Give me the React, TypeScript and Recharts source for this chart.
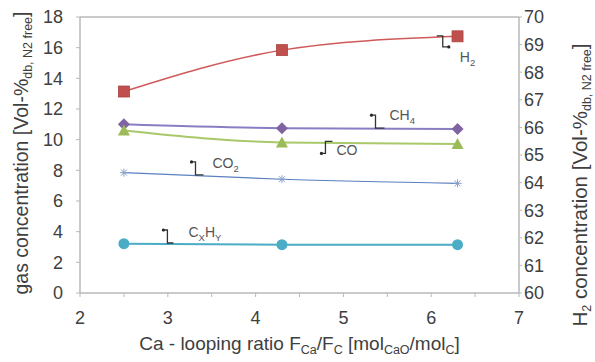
import React from 'react';
import { ComposedChart, Line, XAxis, YAxis, ReferenceLine, ReferenceDot } from 'recharts';

// ---- data ----
const ratios = [2.5, 4.3, 6.3];
const h2 = [67.3, 68.8, 69.3]; // right axis
const ch4 = [11.0, 10.75, 10.7];
const co = [10.6, 9.82, 9.72];
const co2 = [7.85, 7.42, 7.15];
const cxhy = [3.22, 3.15, 3.15];

const xTicks = [2, 2.5, 3, 3.5, 4, 4.5, 5, 5.5, 6, 6.5, 7];
const leftTicks = [0, 2, 4, 6, 8, 10, 12, 14, 16, 18];
const rightTicks = [60, 61, 62, 63, 64, 65, 66, 67, 68, 69, 70];

// annotation anchors (data coordinates on left axis)
const annotations = [
  { id: 'H2', parts: [['H', false], ['2', true]], x: 6.2, y: 16.05 },
  { id: 'CH4', parts: [['CH', false], ['4', true]], x: 5.32, y: 11.6 },
  { id: 'CO', parts: [['CO', false]], x: 4.75, y: 9.1 },
  { id: 'CO2', parts: [['CO', false], ['2', true]], x: 3.27, y: 8.55 },
  { id: 'CxHy', parts: [['C', false], ['X', true], ['H', false], ['Y', true]], x: 2.95, y: 4.11 },
];

const data = ratios.map((r, i) => ({ x: r, h2: h2[i], ch4: ch4[i], co: co[i], co2: co2[i], cxhy: cxhy[i] }));

const FONT = 'Liberation Sans, Arial, sans-serif';
const TXT = '#404040';
const AX = '#b8b8b8';

const annotStyle: Record<string, { path: string; lx: number; ly: number }> = {
  H2: { path: 'M0,0 H-6 V-11 H-12', lx: 11, ly: 10 },
  CH4: { path: 'M0,0 H4 V13 H13', lx: 18, ly: 0 },
  CO: { path: 'M0,0 H4 V-12 H11', lx: 15, ly: -3 },
  CO2: { path: 'M0,0 H4 V13 H12', lx: 21, ly: 1 },
  CxHy: { path: 'M0,0 H4 V13 H10', lx: 25, ly: 2 },
};

const renderAnnot = (a: any) => (props: any) => {
  const { cx, cy } = props;
  const s = annotStyle[a.id];
  return (
    <g key={a.id}>
      <circle cx={cx} cy={cy} r={1.6} fill="#222" />
      <path d={s.path} transform={`translate(${cx},${cy})`} stroke="#333" strokeWidth={1.3} fill="none" />
      <text x={cx + s.lx} y={cy + s.ly + 5} fontSize={14} fontFamily={FONT} fill="#555">
        {a.parts.map((p: any, i: number) => {
          const prevSub = i > 0 && a.parts[i - 1][1];
          const dy = p[1] ? (prevSub ? 0 : 4) : prevSub ? -4 : 0;
          return (
            <tspan key={i} dy={dy} fontSize={p[1] ? 9.5 : 14}>{p[0]}</tspan>
          );
        })}
      </text>
    </g>
  );
};

const Square = (p: any) => (
  <rect key={`s${p.index}`} x={p.cx - 5.5} y={p.cy - 5.5} width={11} height={11} fill="#c0504d" stroke="#a94442" strokeWidth={0.8} />
);
const Diamond = (p: any) => (
  <polygon key={`d${p.index}`} points={`${p.cx},${p.cy - 6} ${p.cx + 6},${p.cy} ${p.cx},${p.cy + 6} ${p.cx - 6},${p.cy}`} fill="#8064a2" />
);
const Tri = (p: any) => (
  <polygon key={`t${p.index}`} points={`${p.cx},${p.cy - 6} ${p.cx + 6},${p.cy + 5} ${p.cx - 6},${p.cy + 5}`} fill="#9bbb59" />
);
const Circ = (p: any) => (
  <circle key={`c${p.index}`} cx={p.cx} cy={p.cy} r={5.5} fill="#4bacc6" />
);
const Star = (p: any) => (
  <g key={`x${p.index}`} stroke="#8aa0c8" strokeWidth={1}>
    <line x1={p.cx - 4} y1={p.cy} x2={p.cx + 4} y2={p.cy} />
    <line x1={p.cx} y1={p.cy - 4} x2={p.cx} y2={p.cy + 4} />
    <line x1={p.cx - 3} y1={p.cy - 3} x2={p.cx + 3} y2={p.cy + 3} />
    <line x1={p.cx - 3} y1={p.cy + 3} x2={p.cx + 3} y2={p.cy - 3} />
  </g>
);

const SUB = 12.5;

const XTitle = (props: any) => {
  const vb = props.viewBox;
  const cx = vb.x + vb.width / 2;
  const y = 350;
  return (
    <text x={cx} y={y} textAnchor="middle" fontSize={19} fontFamily={FONT} fill={TXT}>
      Ca - looping ratio F<tspan dy={4} fontSize={SUB}>Ca</tspan>
      <tspan dy={-4}>/F</tspan>
      <tspan dy={4} fontSize={SUB}>C</tspan>
      <tspan dy={-4}> [mol</tspan>
      <tspan dy={4} fontSize={SUB}>CaO</tspan>
      <tspan dy={-4}>/mol</tspan>
      <tspan dy={4} fontSize={SUB}>C</tspan>
      <tspan dy={-4}>]</tspan>
    </text>
  );
};

const LeftTitle = () => {
  const cx = 21, cy = 153;
  return (
    <text x={cx} y={cy + 7} transform={`rotate(-90 ${cx} ${cy})`} textAnchor="middle" fontSize={19.5} fontFamily={FONT} fill={TXT}>
      gas concentration [Vol-%<tspan dy={4} fontSize={SUB}>db, N2 free</tspan>
      <tspan dy={-4}>]</tspan>
    </text>
  );
};

const RightTitle = () => {
  const cx = 580, cy = 185;
  return (
    <text x={cx} y={cy + 7} transform={`rotate(-90 ${cx} ${cy})`} textAnchor="middle" fontSize={20.5} fontFamily={FONT} fill={TXT}>
      H<tspan dy={4} fontSize={SUB}>2</tspan>
      <tspan dy={-4}> concentration [Vol-%</tspan>
      <tspan dy={4} fontSize={SUB}>db, N2 free</tspan>
      <tspan dy={-4}>]</tspan>
    </text>
  );
};

export default function App() {
  const tick = { fill: TXT, fontSize: 18, fontFamily: FONT };
  return (
    <div style={{ position: 'absolute', left: 0, top: 0, width: 595, height: 362, background: '#fff' }}>
      <ComposedChart width={595} height={362} data={data} margin={{ top: 17, right: 0, left: 0, bottom: 0 }}>
        <XAxis
          dataKey="x"
          type="number"
          domain={[2, 7]}
          ticks={xTicks}
          interval={0}
          tickFormatter={(v: number) => (Number.isInteger(v) ? String(v) : '')}
          height={69}
          tick={tick}
          tickSize={4}
          tickMargin={14}
          axisLine={{ stroke: AX, strokeWidth: 1.5 }}
          tickLine={{ stroke: AX }}
          label={{ content: <XTitle /> }}
        />
        <YAxis
          yAxisId="left"
          domain={[0, 18]}
          ticks={leftTicks}
          interval={0}
          width={80}
          tick={tick}
          tickSize={4}
          tickMargin={13}
          axisLine={{ stroke: AX, strokeWidth: 1.5 }}
          tickLine={{ stroke: AX }}
          label={{ content: <LeftTitle /> }}
        />
        <YAxis
          yAxisId="right"
          orientation="right"
          domain={[60, 70]}
          ticks={rightTicks}
          interval={0}
          width={76}
          tick={tick}
          tickSize={3}
          tickMargin={2}
          axisLine={{ stroke: AX, strokeWidth: 1.5 }}
          tickLine={{ stroke: AX }}
          label={{ content: <RightTitle /> }}
        />
        <ReferenceLine yAxisId="left" y={18} stroke={AX} strokeWidth={1.5} />
        <Line yAxisId="right" type="natural" dataKey="h2" stroke="#d0595a" strokeWidth={1.5} dot={Square} isAnimationActive={false} />
        <Line yAxisId="left" type="monotone" dataKey="ch4" stroke="#8b7dc4" strokeWidth={2} dot={Diamond} isAnimationActive={false} />
        <Line yAxisId="left" type="monotone" dataKey="co" stroke="#a8c86a" strokeWidth={2} dot={Tri} isAnimationActive={false} />
        <Line yAxisId="left" type="monotone" dataKey="co2" stroke="#5b7fc0" strokeWidth={1.2} dot={Star} isAnimationActive={false} />
        <Line yAxisId="left" type="monotone" dataKey="cxhy" stroke="#4bacc6" strokeWidth={2} dot={Circ} isAnimationActive={false} />
        {annotations.map((a) => (
          <ReferenceDot key={a.id} yAxisId="left" x={a.x} y={a.y} r={0} shape={renderAnnot(a)} />
        ))}
      </ComposedChart>
    </div>
  );
}
